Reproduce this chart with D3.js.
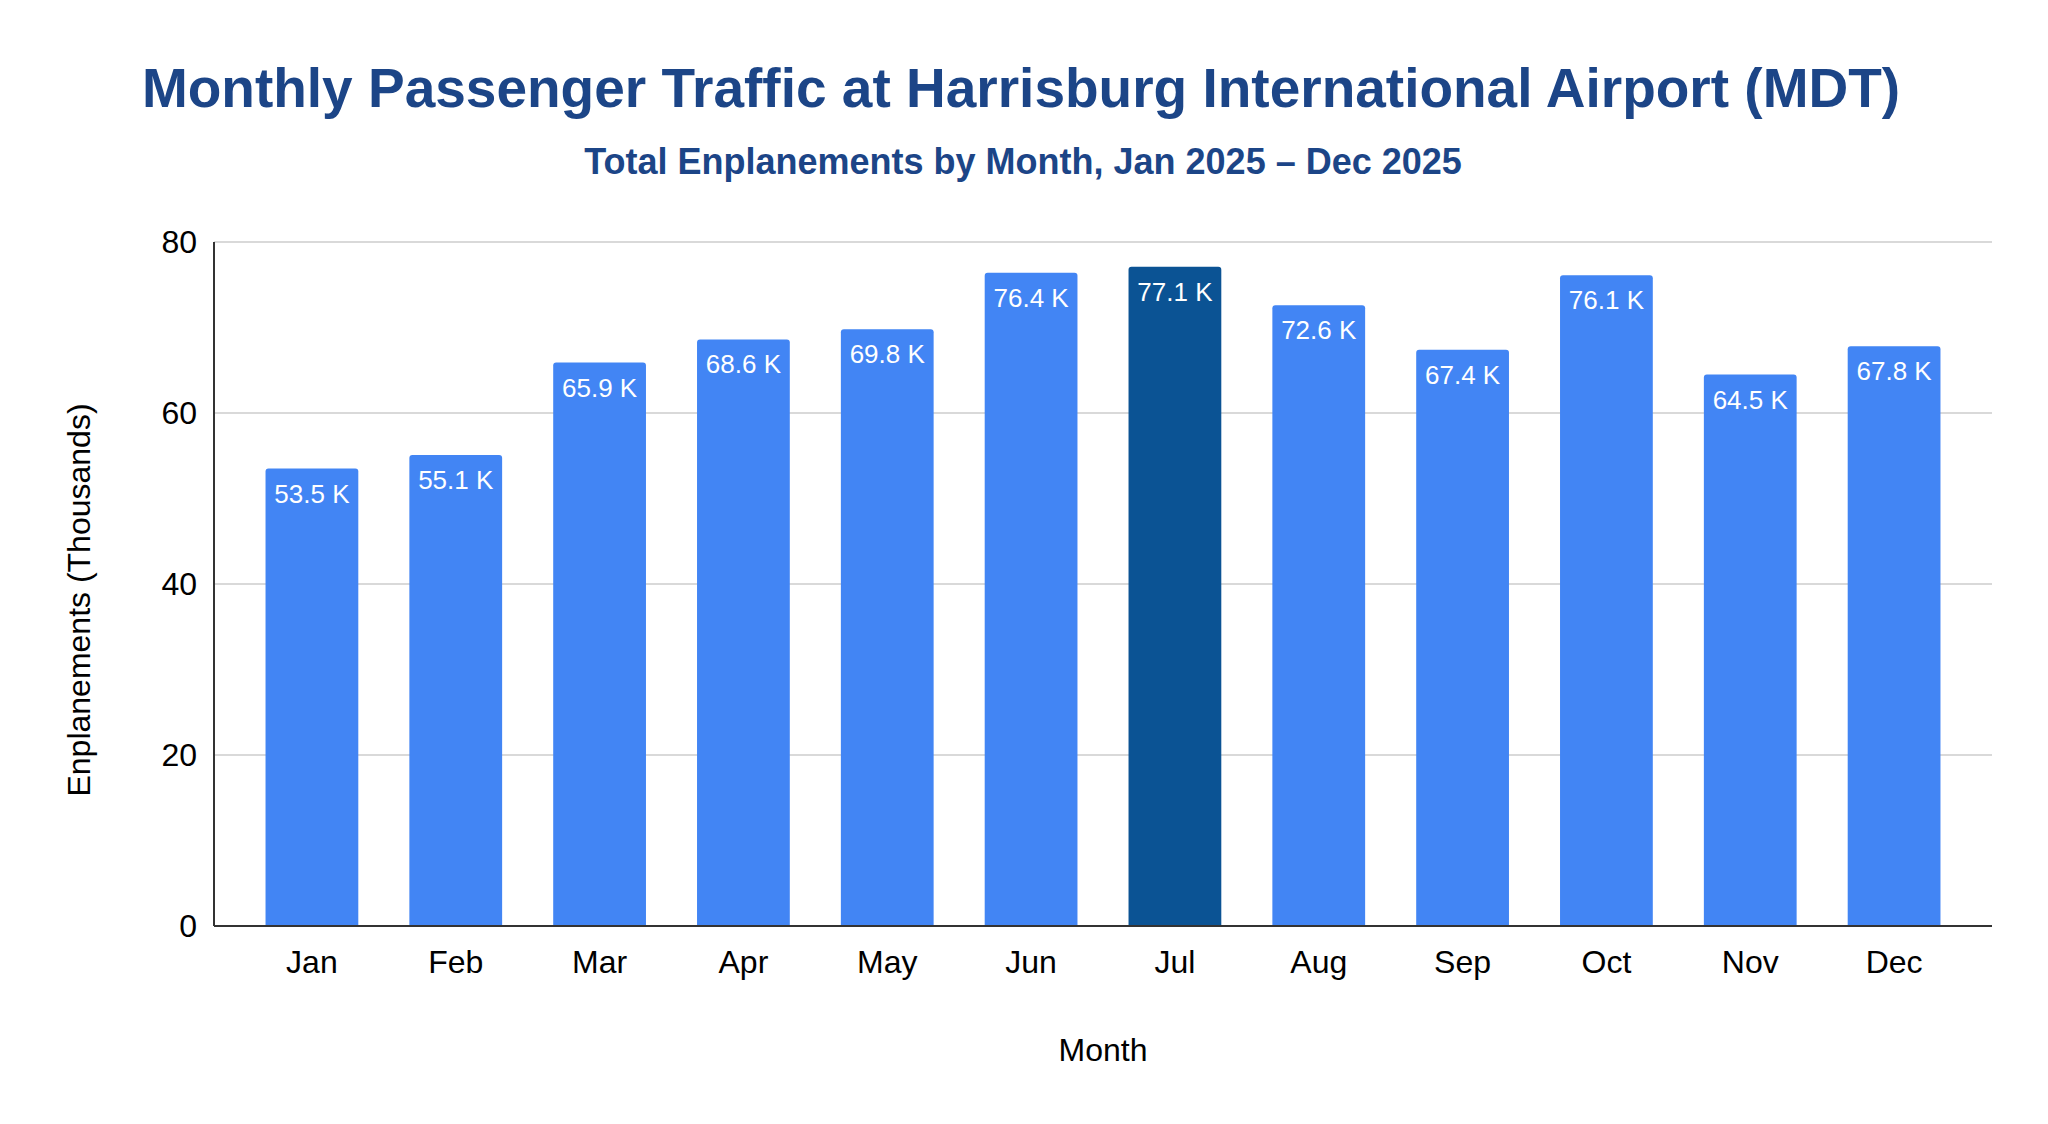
<!DOCTYPE html>
<html>
<head>
<meta charset="utf-8">
<title>Monthly Passenger Traffic at Harrisburg International Airport (MDT)</title>
<script src="https://cdn.jsdelivr.net/npm/d3@7"></script>
<style>
  html, body { margin: 0; padding: 0; background: #ffffff; }
  #chart svg { display: block; }
  .axis text { font-family: "Liberation Sans", Arial, sans-serif; fill: #000000; }
</style>
</head>
<body>
<div id="chart"></div>
<script>
'use strict';

// ── Data ──────────────────────────────────────────────────────────────────
const months = ['Jan', 'Feb', 'Mar', 'Apr', 'May', 'Jun',
                'Jul', 'Aug', 'Sep', 'Oct', 'Nov', 'Dec'];
const enplanements = [53.5, 55.1, 65.9, 68.6, 69.8, 76.4,
                      77.1, 72.6, 67.4, 76.1, 64.5, 67.8];   // thousands
const yTicks = [0, 20, 40, 60, 80];
const highlightMonth = 'Jul';

const TITLE    = 'Monthly Passenger Traffic at Harrisburg International Airport (MDT)';
const SUBTITLE = 'Total Enplanements by Month, Jan 2025 \u2013 Dec 2025';
const X_TITLE  = 'Month';
const Y_TITLE  = 'Enplanements (Thousands)';

const BAR_COLOR  = '#4285f4';
const HIGH_COLOR = '#0b5394';
const HEAD_COLOR = '#1c4587';
const FONT = '"Liberation Sans", Arial, sans-serif';

// ── Layout ────────────────────────────────────────────────────────────────
const fullW = 2048, fullH = 1124;
const margin = { top: 242, right: 56, bottom: 198, left: 214 };
const W = fullW - margin.left - margin.right;
const H = fullH - margin.top - margin.bottom;

const data = months.map((m, i) => ({ month: m, value: enplanements[i] }));

const x = d3.scaleBand()
  .domain(months)
  .range([26, W - 26])
  .paddingInner(0.355)
  .paddingOuter(0.1775);

const y = d3.scaleLinear()
  .domain([0, 80])
  .range([H, 0]);

const svg = d3.select('#chart')
  .append('svg')
  .attr('width', fullW)
  .attr('height', fullH)
  .attr('viewBox', `0 0 ${fullW} ${fullH}`);

// Titles
svg.append('text')
  .attr('x', 1021).attr('y', 107)
  .attr('text-anchor', 'middle')
  .attr('font-family', FONT).attr('font-weight', 'bold')
  .attr('font-size', '55px')
  .attr('fill', HEAD_COLOR)
  .text(TITLE);

svg.append('text')
  .attr('x', 1023).attr('y', 174)
  .attr('text-anchor', 'middle')
  .attr('font-family', FONT).attr('font-weight', 'bold')
  .attr('font-size', '36px')
  .attr('fill', HEAD_COLOR)
  .text(SUBTITLE);

const g = svg.append('g').attr('transform', `translate(${margin.left},${margin.top})`);

// Grid
g.append('g')
  .selectAll('line')
  .data(yTicks.filter(t => t > 0))
  .join('line')
  .attr('x1', 0).attr('x2', W)
  .attr('y1', d => y(d)).attr('y2', d => y(d))
  .attr('stroke', '#cccccc')
  .attr('stroke-width', 1.5);

// Bars (rounded top corners only)
const r = 3;
function barPath(d) {
  const x0 = x(d.month), x1 = x0 + x.bandwidth();
  const y0 = y(d.value), yb = y(0);
  return `M${x0},${yb} V${y0 + r} Q${x0},${y0} ${x0 + r},${y0} ` +
         `H${x1 - r} Q${x1},${y0} ${x1},${y0 + r} V${yb} Z`;
}

g.selectAll('.bar')
  .data(data)
  .join('path')
  .attr('class', 'bar')
  .attr('d', barPath)
  .attr('fill', d => d.month === highlightMonth ? HIGH_COLOR : BAR_COLOR);

// Value labels
g.selectAll('.val-label')
  .data(data)
  .join('text')
  .attr('class', 'val-label')
  .attr('x', d => x(d.month) + x.bandwidth() / 2)
  .attr('y', d => y(d.value) + 34)
  .attr('text-anchor', 'middle')
  .attr('fill', '#ffffff')
  .attr('font-family', FONT)
  .attr('font-size', '26px')
  .text(d => `${d.value.toFixed(1)} K`);

// Axes
g.append('g').attr('class', 'axis')
  .call(d3.axisLeft(y).tickValues(yTicks).tickSize(0).tickPadding(17))
  .call(ax => ax.select('.domain').remove())
  .selectAll('text')
  .attr('font-size', '32px');

g.append('g').attr('class', 'axis')
  .attr('transform', `translate(0,${H})`)
  .call(d3.axisBottom(x).tickSize(0).tickPadding(24))
  .call(ax => ax.select('.domain').remove())
  .selectAll('text')
  .attr('font-size', '32px');

// Axis lines
g.append('line')
  .attr('x1', 0).attr('x2', 0).attr('y1', 0).attr('y2', H)
  .attr('stroke', '#333333').attr('stroke-width', 2);
g.append('line')
  .attr('x1', 0).attr('x2', W).attr('y1', H).attr('y2', H)
  .attr('stroke', '#333333').attr('stroke-width', 2);

// Axis titles
svg.append('text')
  .attr('x', 1103).attr('y', 1061)
  .attr('text-anchor', 'middle')
  .attr('font-family', FONT).attr('font-size', '32px')
  .attr('fill', '#000000')
  .text(X_TITLE);

svg.append('text')
  .attr('transform', 'translate(90,600) rotate(-90)')
  .attr('text-anchor', 'middle')
  .attr('font-family', FONT).attr('font-size', '32px')
  .attr('fill', '#000000')
  .text(Y_TITLE);
</script>
</body>
</html>
